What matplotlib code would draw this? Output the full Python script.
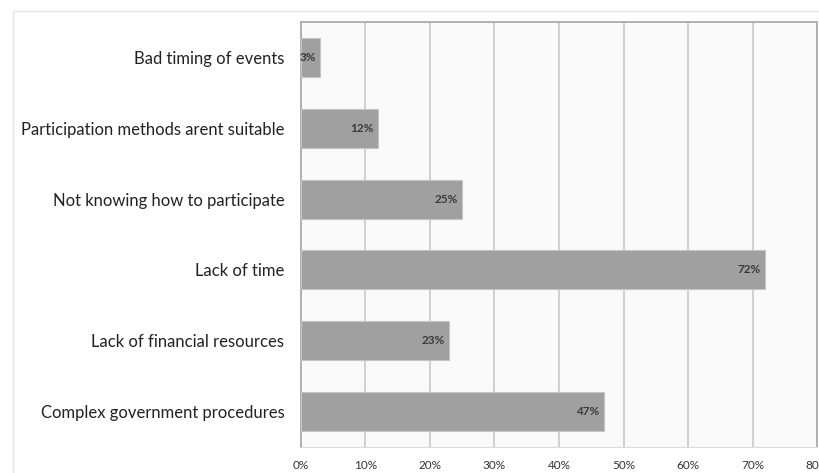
import matplotlib.pyplot as plt
from matplotlib.patches import Rectangle
from matplotlib.ticker import FuncFormatter

# barriers to participation, share of respondents (%)
categories = [
    "Complex government procedures",
    "Lack of financial resources",
    "Lack of time",
    "Not knowing how to participate",
    "Participation methods arent suitable",
    "Bad timing of events",
]
values = [47, 23, 72, 25, 12, 3]
xticks = [0, 10, 20, 30, 40, 50, 60, 70, 80]

plt.rcParams['font.family'] = ['Lato', 'DejaVu Sans']

fig = plt.figure(figsize=(8.2, 4.73), dpi=100)
ax = fig.add_axes([301 / 820, 1 - 447 / 473, 516 / 820, 425 / 473])

# faint outer frame of the chart area
fig.patches.append(Rectangle((13 / 820, -0.1), 1.2, (473 - 11) / 473 + 0.1,
                             transform=fig.transFigure, fill=False,
                             edgecolor='#e4e4e4', lw=1.0, zorder=0))

ax.set_facecolor('#fafafa')
y = range(len(categories))
bars = ax.barh(y, values, height=0.55, color='#a0a0a0',
               edgecolor='#c4c4c4', linewidth=0.8, zorder=3)

for b, v in zip(bars, values):
    ax.text(v - 0.7, b.get_y() + b.get_height() / 2, f"{v}%",
            ha='right', va='center', fontsize=8.5, fontweight='bold',
            color='#3a3a3a', zorder=4)

ax.set_xlim(0, 80)
ax.set_ylim(-0.5, len(categories) - 0.5)
ax.set_xticks(xticks)
ax.xaxis.set_major_formatter(FuncFormatter(lambda x, _: f"{x:.0f}%"))
ax.set_yticks(list(y))
ax.set_yticklabels(categories)

ax.grid(axis='x', color='#cfcfcf', lw=1.4, zorder=1)
ax.set_axisbelow(True)
ax.tick_params(axis='y', length=0, pad=12, labelsize=12, labelcolor='#222222')
ax.tick_params(axis='x', length=0, pad=9, labelsize=8.5, labelcolor='#333333')

for side in ['left', 'top', 'right']:
    ax.spines[side].set_color('#b0b0b0')
    ax.spines[side].set_linewidth(1.4)
ax.spines['bottom'].set_color('#dcdcdc')
ax.spines['bottom'].set_linewidth(0.8)

plt.savefig("out.png", dpi=100)
